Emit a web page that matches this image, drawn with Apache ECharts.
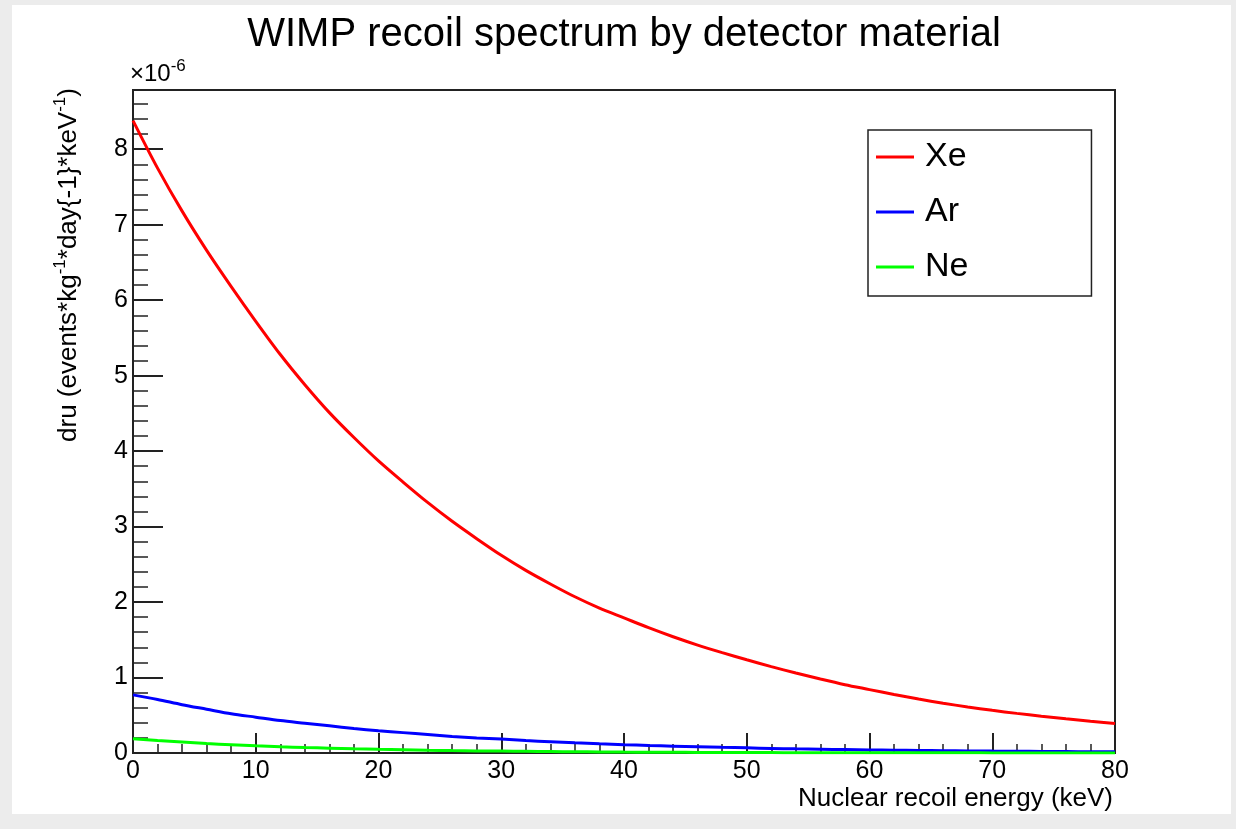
<!DOCTYPE html>
<html><head><meta charset="utf-8">
<script src="https://cdn.jsdelivr.net/npm/echarts@6/dist/echarts.min.js"></script>
<style>
html,body{margin:0;padding:0;background:#ececec;overflow:hidden;}
#frame{position:absolute;left:12px;top:5px;width:1219px;height:809px;background:#fff;}
#chart{position:absolute;left:0;top:0;width:1236px;height:829px;}
</style></head><body>
<div id="frame"></div>
<div id="chart"></div>
<script>
// Nuclear recoil energy (keV)
const energy = [0,2,4,6,8,10,12,14,16,18,20,22,24,26,28,30,32,34,36,38,40,
  42,44,46,48,50,52,54,56,58,60,62,64,66,68,70,72,74,76,78,80];
// dru in units of 1e-6 events/kg/day/keV
const xe = [8.38,7.75,7.18,6.66,6.18,5.72,5.28,4.88,4.51,4.18,3.87,3.59,3.32,3.07,2.84,2.62,2.42,2.24,2.07,1.92,1.79,
  1.66,1.54,1.43,1.33,1.235,1.145,1.06,0.98,0.905,0.84,0.775,0.715,0.66,0.61,0.565,0.525,0.488,0.453,0.42,0.39];
const ar = [0.77,0.71,0.64,0.58,0.52,0.475,0.43,0.395,0.36,0.325,0.295,0.27,0.245,0.22,0.20,0.185,0.165,0.15,0.135,0.122,0.11,
  0.10,0.091,0.083,0.075,0.068,0.061,0.055,0.05,0.045,0.041,0.037,0.034,0.031,0.028,0.025,0.023,0.021,0.019,0.017,0.016];
const ne = [0.19,0.165,0.145,0.125,0.11,0.095,0.083,0.073,0.064,0.056,0.049,0.043,0.037,0.032,0.028,0.025,0.022,0.019,0.016,0.014,0.012,
  0.011,0.0095,0.008,0.007,0.006,0.0053,0.0046,0.004,0.0035,0.003,0.0027,0.0024,0.0021,0.0018,0.0016,0.0014,0.0012,0.0011,0.001,0.0009];
const seriesNames = ['Xe','Ar','Ne'];
const seriesColors = ['#ff0000','#0000ff','#00ff00'];
const xRange = [0, 80];
const yRange = [0, 8.785];

const FONT = 'Liberation Sans, Arial, Helvetica, sans-serif';
const axisColor = '#222';
const chart = echarts.init(document.getElementById('chart'), null, {renderer:'canvas'});
const seriesData = [xe, ar, ne];

const option = {
  animation: false,
  backgroundColor: 'transparent',
  grid: {left:133, top:90, width:982, height:663, show:true, borderColor:axisColor, borderWidth:2, outerBoundsMode:'none', containLabel:false},
  xAxis: {
    type:'value', min:xRange[0], max:xRange[1], interval:10,
    axisLine:{show:true, onZero:false, lineStyle:{color:axisColor, width:2}},
    axisTick:{show:true, inside:true, length:20, lineStyle:{color:axisColor, width:2}},
    minorTick:{show:true, splitNumber:5, length:9, lineStyle:{color:axisColor, width:1.5}},
    splitLine:{show:false},
    axisLabel:{color:'#000', fontFamily:FONT, fontSize:25, margin:6}
  },
  yAxis: {
    type:'value', min:yRange[0], max:yRange[1], interval:1,
    axisLine:{show:true, onZero:false, lineStyle:{color:axisColor, width:2}},
    axisTick:{show:true, inside:true, length:30, lineStyle:{color:axisColor, width:2}},
    minorTick:{show:true, splitNumber:5, length:15, lineStyle:{color:axisColor, width:1.5}},
    splitLine:{show:false},
    axisLabel:{color:'#000', fontFamily:FONT, fontSize:25, margin:5, showMaxLabel:false}
  },
  legend: {
    orient:'vertical', left:868, top:130,
    padding:[10,123,12,8],
    itemGap:21, itemWidth:38, itemHeight:3, icon:'rect',
    borderColor:'#222', borderWidth:1.5, backgroundColor:'#fff',
    textStyle:{color:'#000', fontFamily:FONT, fontSize:34, padding:[0,0,0,6]},
    data: seriesNames
  },
  series: seriesNames.map((n, k) => ({
    name:n, type:'line', showSymbol:false, symbol:'none', smooth:0.3,
    data: energy.map((e, i) => [e, seriesData[k][i]]),
    lineStyle:{color:seriesColors[k], width:3},
    itemStyle:{color:seriesColors[k]},
    z: 2 + k
  })),
  graphic: [
    {type:'text', x:624, y:35, style:{text:'WIMP recoil spectrum by detector material', fontFamily:FONT, fontSize:40, fill:'#000', align:'center', verticalAlign:'middle'}},
    {type:'text', x:1113, y:799, style:{text:'Nuclear recoil energy (keV)', fontFamily:FONT, fontSize:26, fill:'#000', align:'right', verticalAlign:'middle'}},
    {type:'text', x:69, y:265, rotation:Math.PI/2, style:{text:'dru (events*kg{s|-1}*day{-1}*keV{s|-1})', fontFamily:FONT, fontSize:26, lineHeight:34, fill:'#000', align:'center', verticalAlign:'middle',
      rich:{s:{fontFamily:FONT, fontSize:17, lineHeight:17, verticalAlign:'top', fill:'#000'}}}},
    {type:'text', x:130, y:74, style:{text:'×10{s|-6}', fontFamily:FONT, fontSize:24, lineHeight:32, fill:'#000', align:'left', verticalAlign:'middle',
      rich:{s:{fontFamily:FONT, fontSize:17, lineHeight:17, verticalAlign:'top', fill:'#000'}}}}
  ]
};
chart.setOption(option);
</script>
</body></html>
